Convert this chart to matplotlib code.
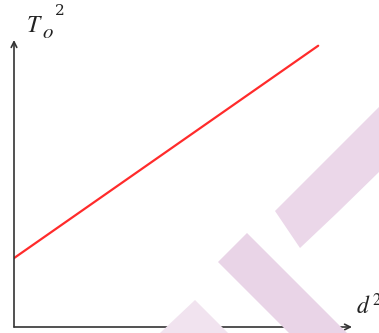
import matplotlib
matplotlib.use('Agg')
import matplotlib.pyplot as plt
from matplotlib.patches import Polygon

# data: straight line T0^2 vs d^2 (arbitrary units)
d2 = [0.0, 9.0]
T2 = [2.4, 9.8]

W, H = 379, 333
fig = plt.figure(figsize=(W / 100, H / 100), dpi=100)
fig.patch.set_facecolor('white')

# faint watermark behind the plot (pixel coords, y from top)
def px_poly(pts, color):
    xy = [(x / W, 1 - y / H) for x, y in pts]
    fig.patches.append(Polygon(xy, closed=True, transform=fig.transFigure,
                               facecolor=color, edgecolor='none', zorder=0))

px_poly([(275, 211), (379, 107), (379, 172), (337, 213), (300, 248)], '#ebd7e9')
px_poly([(247, 233), (347, 333), (289, 333), (218, 262)], '#e9d4e7')
px_poly([(160, 333), (195, 300), (228, 333)], '#f1e3ef')

# axes origin at pixel (14, 327)
x0, y0, x1, y1 = 14, 327, 352, 40
ax = fig.add_axes([x0 / W, 1 - y0 / H, (x1 - x0) / W, (y0 - y1) / H])
ax.set_facecolor('none')
ax.set_xlim(0, 10)
ax.set_ylim(0, 10)
for s in ax.spines.values():
    s.set_visible(False)
ax.set_xticks([])
ax.set_yticks([])

ax.plot(d2, T2, color='#ff2b2b', lw=1.6, solid_capstyle='round', zorder=3)

# arrow axes
arrow = dict(arrowstyle='->', color='#333333', lw=1.2, shrinkA=0, shrinkB=0,
             mutation_scale=10)
ax.annotate('', xy=(1, 0), xytext=(0, 0), xycoords='axes fraction',
            arrowprops=arrow, annotation_clip=False)
ax.annotate('', xy=(0, 1), xytext=(0, 0), xycoords='axes fraction',
            arrowprops=arrow, annotation_clip=False)

plt.rcParams['mathtext.fontset'] = 'stix'
fig.text(26 / W, 1 - 32 / H, r'$T$', fontsize=17, color='#222222',
         ha='left', va='baseline')
fig.text(42 / W, 1 - 38 / H, r'$o$', fontsize=15, color='#222222',
         ha='left', va='baseline')
fig.text(55 / W, 1 - 15 / H, '2', fontsize=11, color='#222222',
         ha='left', va='baseline', family='serif')
fig.text(356 / W, 1 - 314 / H, r'$d^{\,2}$', fontsize=17, color='#222222',
         ha='left', va='baseline')

fig.savefig('out.png', dpi=100)
